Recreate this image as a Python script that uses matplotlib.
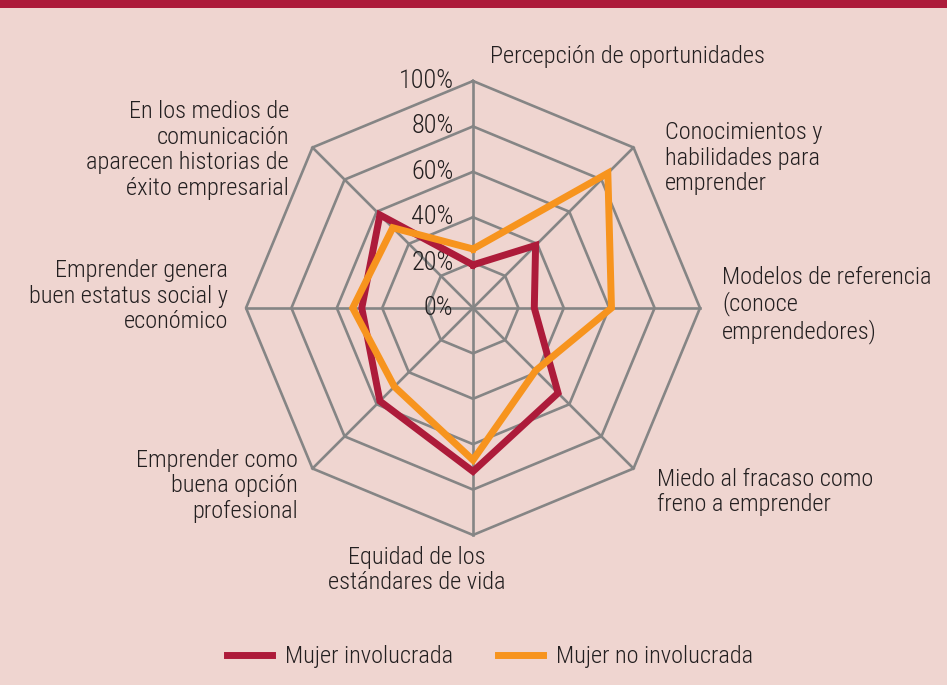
import numpy as np
import matplotlib
matplotlib.use("Agg")
import matplotlib.pyplot as plt
from matplotlib.patches import Rectangle
from matplotlib.lines import Line2D
from matplotlib import font_manager

# Categories, clockwise from the top
categories = [
    "Percepción de oportunidades",
    "Conocimientos y\nhabilidades para\nemprender",
    "Modelos de referencia\n(conoce\nemprendedores)",
    "Miedo al fracaso como\nfreno a emprender",
    "Equidad de los\nestándares de vida",
    "Emprender como\nbuena opción\nprofesional",
    "Emprender genera\nbuen estatus social y\neconómico",
    "En los medios de\ncomunicación\naparecen historias de\néxito empresarial",
]
involucrada = [19, 39, 27, 53, 72, 58, 49, 58]
no_involucrada = [26, 84, 61, 39, 67, 49, 53, 50]
ring_levels = [20, 40, 60, 80, 100]
tick_labels = ["0%", "20%", "40%", "60%", "80%", "100%"]

BG = "#efd5d0"
RED = "#ad1b3a"
ORANGE = "#f7941e"
GRID = "#858585"
TXT = "#231f20"

names = {f.name for f in font_manager.fontManager.ttflist}
fam = "Roboto Condensed" if "Roboto Condensed" in names else "DejaVu Sans"
plt.rcParams["font.family"] = fam
plt.rcParams["font.weight"] = "light"

W, H = 947, 685
fig = plt.figure(figsize=(W / 100, H / 100), dpi=100, facecolor=BG)

# top banner
fig.add_artist(Rectangle((0, 1 - 8 / H), 1, 8 / H, transform=fig.transFigure,
                         color=RED, lw=0))

cx, cy, R = 473, 308, 227
ax = fig.add_axes([(cx - R) / W, (H - cy - R) / H, 2 * R / W, 2 * R / H],
                  projection="polar")
ax.set_facecolor("none")
ax.set_theta_zero_location("N")
ax.set_theta_direction(-1)
ax.set_ylim(0, 100)
ax.grid(False)
ax.spines["polar"].set_visible(False)
ax.set_xticks([])
ax.set_yticks([])

n = len(categories)
theta = np.arange(n) * 2 * np.pi / n
closed = np.append(theta, theta[0])

for lvl in ring_levels:
    ax.plot(closed, [lvl] * (n + 1), color=GRID, lw=1.9, zorder=1, clip_on=False)
for t in theta:
    ax.plot([t, t], [0, 100], color=GRID, lw=1.9, zorder=1, clip_on=False)

ax.plot(closed, involucrada + involucrada[:1], color=RED, lw=5, zorder=3,
        solid_joinstyle="miter", clip_on=False)
ax.plot(closed, no_involucrada + no_involucrada[:1], color=ORANGE, lw=5, zorder=4,
        solid_joinstyle="miter", clip_on=False)

for i, lab in enumerate(tick_labels):
    ax.annotate(lab, xy=(0, i * 20), xytext=(-14, 0), textcoords="offset points",
                ha="right", va="center", fontsize=19, color=TXT, zorder=2)

# category labels (pixel anchors)
label_pos = [
    (490, 57, "left"),
    (665, 158, "left"),
    (722, 305, "left"),
    (657, 492, "left"),
    (417, 570, "center"),
    (298, 486, "right"),
    (228, 296, "right"),
    (289, 150, "right"),
]
for text, (x, y, ha) in zip(categories, label_pos):
    fig.text(x / W, 1 - y / H, text, ha=ha, va="center", fontsize=17.6,
             color=TXT, linespacing=1.16, multialignment=ha)

handles = [Line2D([], [], color=RED, lw=5), Line2D([], [], color=ORANGE, lw=5)]
fig.legend(handles, ["Mujer involucrada", "Mujer no involucrada"], loc="center",
           bbox_to_anchor=(490 / W, 1 - 657 / H), ncol=2, frameon=False,
           fontsize=17.6, handlelength=1.85, columnspacing=1.8, handletextpad=0.55,
           labelcolor=TXT)

fig.savefig("out.png", dpi=100, facecolor=BG)
